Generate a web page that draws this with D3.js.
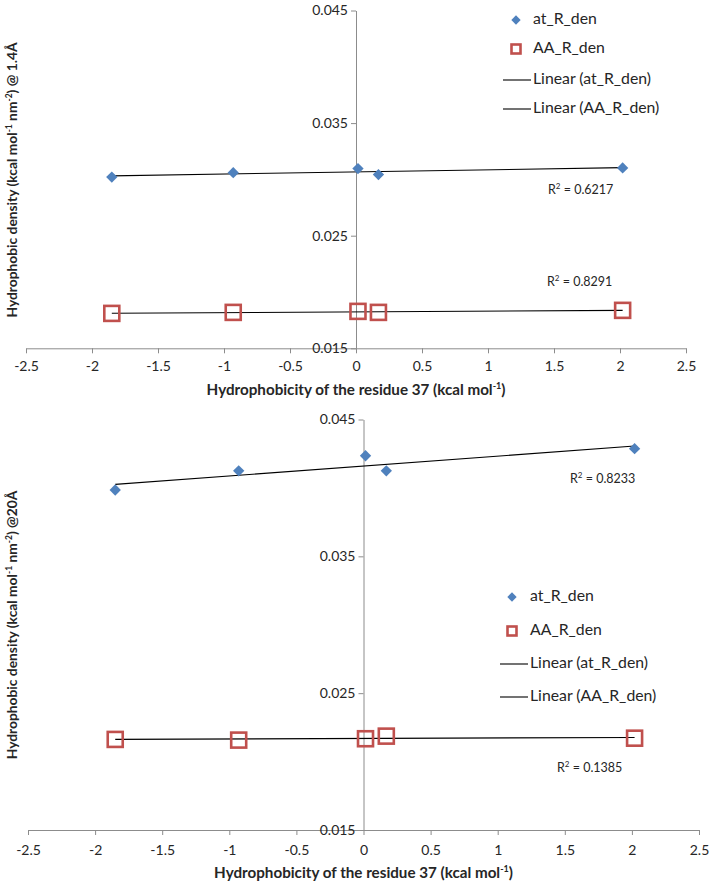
<!DOCTYPE html>
<html><head><meta charset="utf-8">
<script src="https://cdn.jsdelivr.net/npm/d3@7/dist/d3.min.js"></script>
<style>
body{margin:0;background:#fff;}
svg{display:block;font-family:Lato,"Open Sans",sans-serif;}
</style></head>
<body>
<svg id="c" width="712" height="885"></svg>
<script>
// ---- data ----
const xValues = [-1.85, -0.93, 0.015, 0.17, 2.02];
const atTop = [0.03021, 0.03060, 0.03096, 0.03043, 0.03102];
const aaTop = [0.01810, 0.01819, 0.01828, 0.01819, 0.01837];
const atBottom = [0.03985, 0.04125, 0.04235, 0.04125, 0.04287];
const aaBottom = [0.02162, 0.02157, 0.02167, 0.02186, 0.02171];
const xTicks = [-2.5, -2, -1.5, -1, -0.5, 0, 0.5, 1, 1.5, 2, 2.5];
const xTickLabels = ["-2.5","-2","-1.5","-1","-0.5","0","0.5","1","1.5","2","2.5"];
const yTicks = [0.015, 0.025, 0.035, 0.045];
const yTickLabels = ["0.015","0.025","0.035","0.045"];
const seriesNames = ["at_R_den", "AA_R_den", "Linear (at_R_den)", "Linear (AA_R_den)"];
const r2Top = ["0.6217", "0.8291"];
const r2Bottom = ["0.8233", "0.1385"];
const yTitleTop = "@ 1.4Å";
const yTitleBottom = "@20Å";

const BLUE = "#4F81BD", RED = "#C0504D", AXIS = "#8c8c8c", TXT = "#262626";
const svg = d3.select("#c");

function fit(xs, ys){
  const n = xs.length, mx = d3.mean(xs), my = d3.mean(ys);
  let sxy = 0, sxx = 0;
  for (let i=0;i<n;i++){ sxy += (xs[i]-mx)*(ys[i]-my); sxx += (xs[i]-mx)**2; }
  const b = sxy/sxx, a = my - b*mx;
  return x => a + b*x;
}

function chart(cfg){
  const g = svg.append("g");
  const x = d3.scaleLinear().domain([-2.5, 2.5]).range(cfg.xr);
  const y = d3.scaleLinear().domain([0.015, 0.045]).range(cfg.yr);

  const xa = g.append("g").attr("transform", `translate(0,${y(0.015)})`)
    .call(d3.axisBottom(x).tickValues(xTicks).tickFormat((d,i)=>xTickLabels[i]).tickSize(5).tickPadding(cfg.xpad).tickSizeOuter(0));
  const ya = g.append("g").attr("transform", `translate(${x(0)},0)`)
    .call(d3.axisLeft(y).tickValues(yTicks).tickFormat((d,i)=>yTickLabels[i]).tickSize(5).tickPadding(3).tickSizeOuter(0));
  [xa, ya].forEach(a => {
    a.select(".domain").attr("stroke", AXIS);
    a.selectAll(".tick line").attr("stroke", AXIS);
    a.selectAll(".tick text").attr("fill", TXT).style("font-size", "14px").style("font-family", "Lato");
  });

  // trend lines
  const xmin = d3.min(xValues), xmax = d3.max(xValues);
  [cfg.at, cfg.aa].forEach(ys => {
    const f = fit(xValues, ys);
    g.append("line").attr("x1", x(xmin)).attr("x2", x(xmax))
      .attr("y1", y(f(xmin))).attr("y2", y(f(xmax)))
      .attr("stroke", "#000").attr("stroke-width", 1.1);
  });

  // AA squares
  const sq = 15;
  g.selectAll(".aa").data(cfg.aa).enter().append("rect")
    .attr("x", (d,i)=>x(xValues[i]) - sq/2).attr("y", d=>y(d) - sq/2)
    .attr("width", sq).attr("height", sq)
    .attr("fill", "none").attr("stroke", RED).attr("stroke-width", 2.6);
  // at diamonds
  g.selectAll(".at").data(cfg.at).enter().append("rect")
    .attr("x", -4).attr("y", -4).attr("width", 8).attr("height", 8)
    .attr("transform", (d,i)=>`translate(${x(xValues[i])},${y(d)}) rotate(45)`)
    .attr("fill", BLUE);

  // R² labels
  cfg.r2.forEach((v, i) => {
    const t = g.append("text").attr("x", cfg.r2pos[i][0]).attr("y", cfg.r2pos[i][1])
      .attr("fill", TXT).style("font-size", "12.5px").attr("dominant-baseline", "middle");
    t.append("tspan").text("R");
    t.append("tspan").text("2").style("font-size", "8px").attr("dy", -4);
    t.append("tspan").text(" = " + v).attr("dy", 4);
  });

  // legend
  const L = cfg.leg;
  seriesNames.forEach((name, i) => {
    const yy = L.rows[i];
    if (i === 0) {
      g.append("rect").attr("x", -3.3).attr("y", -3.3).attr("width", 6.6).attr("height", 6.6)
        .attr("transform", `translate(${L.mx},${yy}) rotate(45)`).attr("fill", BLUE);
    } else if (i === 1) {
      g.append("rect").attr("x", L.mx - 4.5).attr("y", yy - 4.5).attr("width", 9).attr("height", 9)
        .attr("fill", "none").attr("stroke", RED).attr("stroke-width", 2.6);
    } else {
      g.append("line").attr("x1", L.lx1).attr("x2", L.lx2).attr("y1", yy).attr("y2", yy)
        .attr("stroke", "#000").attr("stroke-width", 1.1);
    }
    g.append("text").attr("x", L.tx).attr("y", yy).attr("dominant-baseline", "middle")
      .attr("fill", TXT).style("font-size", "15.8px").text(name);
  });

  // x title
  const xt = g.append("text").attr("x", x(0)).attr("y", cfg.xty).attr("text-anchor", "middle")
    .attr("fill", TXT).style("font-size", "15.2px").style("font-weight", "bold");
  xt.append("tspan").text("Hydrophobicity of the residue 37 (kcal mol");
  xt.append("tspan").text("-1").style("font-size", "9px").attr("dy", -6);
  xt.append("tspan").text(")").attr("dy", 6);

  // y title
  const yt = g.append("text").attr("transform", `translate(${cfg.ytx},${cfg.yty}) rotate(-90)`)
    .attr("text-anchor", "middle").attr("fill", TXT)
    .style("font-size", "13.8px").style("font-weight", "bold");
  yt.append("tspan").text("Hydrophobic density (kcal mol");
  yt.append("tspan").text("-1").style("font-size", "8.5px").attr("dy", -5);
  yt.append("tspan").text(" nm").attr("dy", 5);
  yt.append("tspan").text("-2").style("font-size", "8.5px").attr("dy", -5);
  yt.append("tspan").text(") " + cfg.ysuffix).attr("dy", 5);
}

chart({
  xr: [26, 686], yr: [348.3, 10.5], xpad: 8,
  at: atTop, aa: aaTop, r2: r2Top,
  r2pos: [[548, 191], [547, 283]],
  leg: {mx: 516, tx: 533, lx1: 503, lx2: 531, rows: [20, 49, 80, 109]},
  xty: 395, ytx: 17, yty: 180, ysuffix: yTitleTop
});
chart({
  xr: [28, 699], yr: [830, 419.5], xpad: 10,
  at: atBottom, aa: aaBottom, r2: r2Bottom,
  r2pos: [[570, 480], [557, 769]],
  leg: {mx: 512, tx: 530, lx1: 500, lx2: 528, rows: [597, 631, 664, 697]},
  xty: 878, ytx: 17, yty: 625, ysuffix: yTitleBottom
});
</script>
</body></html>
